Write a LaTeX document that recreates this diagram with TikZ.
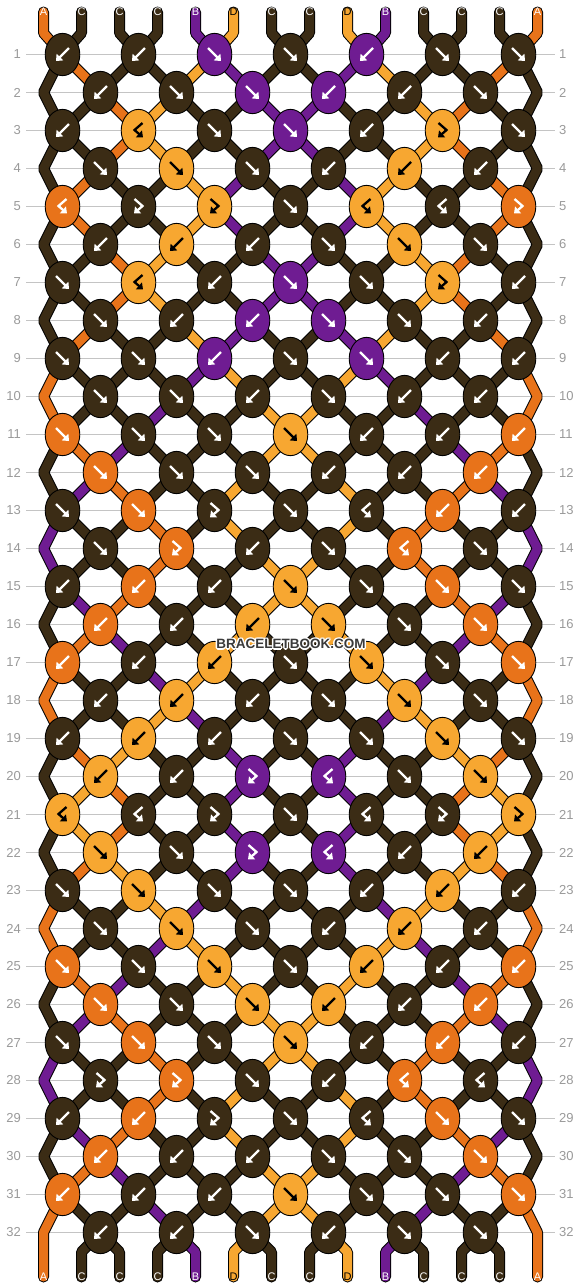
\documentclass[tikz,border=0pt]{standalone}
\usepackage{fontspec}
\setmainfont{Liberation Sans}
\usetikzlibrary{arrows.meta,shapes.geometric}
\definecolor{colA}{HTML}{E8731A}
\definecolor{colB}{HTML}{6F1C92}
\definecolor{colC}{HTML}{3B2C15}
\definecolor{colD}{HTML}{F7A731}
\colorlet{arrA}{white}
\colorlet{arrB}{white}
\colorlet{arrC}{white}
\colorlet{arrD}{black}
\colorlet{txtA}{white}
\colorlet{txtB}{white}
\colorlet{txtC}{white}
\colorlet{txtD}{black}
\definecolor{gridgray}{HTML}{C4C4C4}
\definecolor{numgray}{HTML}{9A9A9A}
\definecolor{wmgray}{HTML}{3A3A3A}
\pgfdeclarelayer{gridlayer}
\pgfdeclarelayer{threadlayer}
\pgfsetlayers{gridlayer,threadlayer,main}
\def\setrow#1#2{\expandafter\def\csname rt#1\endcsname{#2}}
\setrow{1}{b,b,f,f,b,f,f}
\setrow{2}{b,f,f,b,b,f}
\setrow{3}{b,r,f,f,b,l,f}
\setrow{4}{f,f,f,b,b,b}
\setrow{5}{r,l,l,f,r,r,l}
\setrow{6}{b,b,b,f,f,f}
\setrow{7}{f,r,b,f,f,l,b}
\setrow{8}{f,b,b,f,f,b}
\setrow{9}{f,f,b,f,f,b,b}
\setrow{10}{f,f,b,f,b,b}
\setrow{11}{f,f,f,f,b,b,b}
\setrow{12}{f,f,f,b,b,b}
\setrow{13}{f,f,l,f,r,b,b}
\setrow{14}{f,l,b,f,r,f}
\setrow{15}{b,b,b,f,f,f,f}
\setrow{16}{b,b,b,f,f,f}
\setrow{17}{b,b,b,f,f,f,f}
\setrow{18}{b,b,b,f,f,f}
\setrow{19}{b,b,b,f,f,f,f}
\setrow{20}{b,b,l,r,f,f}
\setrow{21}{r,r,l,f,r,l,l}
\setrow{22}{f,f,l,r,b,b}
\setrow{23}{f,f,f,f,b,b,b}
\setrow{24}{f,f,f,b,b,b}
\setrow{25}{f,f,f,f,b,b,b}
\setrow{26}{f,f,f,b,b,b}
\setrow{27}{f,f,f,f,b,b,b}
\setrow{28}{l,l,f,b,r,r}
\setrow{29}{b,b,l,f,r,f,f}
\setrow{30}{b,b,b,f,f,f}
\setrow{31}{b,b,b,f,f,f,f}
\setrow{32}{b,b,f,b,f,f}
\def\doswap{\expandafter\xdef\csname st\pl\endcsname{\Rc}\expandafter\xdef\csname st\pr\endcsname{\Lc}}
\begin{document}
\begin{tikzpicture}[x=1pt,y=-1pt,
  kn/.style={ellipse, draw=black, line width=0.9pt, minimum width=34.6pt, minimum height=42.3pt, inner sep=0pt},
  gly/.style={line width=2.3pt, line join=miter, -{Triangle[length=5.5pt,width=9pt]}},
  outl/.style={draw=black, line width=11pt, line cap=round, line join=bevel},
  thr/.style={line width=9pt, line cap=round, line join=bevel},
  lbl/.style={inner sep=0pt, font=\fontsize{11}{11}\selectfont},
  rownum/.style={inner sep=0pt, text=numgray, font=\fontsize{13}{13}\selectfont},
  gridline/.style={draw=gridgray, line width=1.2pt},
  wm/.style={inner sep=0pt, font=\bfseries\fontsize{13.5}{13.5}\selectfont}]
\useasboundingbox (0,0) rectangle (582,1288);
\begin{pgfonlayer}{gridlayer}
\fill[white] (0,0) rectangle (582,1288);
\end{pgfonlayer}
% row numbers and guide lines
\foreach \rw in {1,...,32}{
  \pgfmathsetmacro\yy{54.5+38*(\rw-1)}
  \node[rownum,anchor=east] (ln\rw) at (21,\yy) {\rw};
  \node[rownum,anchor=west] (rn\rw) at (559,\yy) {\rw};
  \begin{pgfonlayer}{gridlayer}
    \draw[gridline, shorten <=5pt, shorten >=4pt] (ln\rw.east) -- (rn\rw.west);
  \end{pgfonlayer}
}
% initial strings
\foreach \sc [count=\pos] in {A,C,C,C,B,D,C,C,D,B,C,C,C,A}{
  \expandafter\xdef\csname st\pos\endcsname{\sc}
  \expandafter\xdef\csname S0-\pos\endcsname{\sc}
  \pgfmathsetmacro\xx{43.5+38*(\pos-1)}
  \coordinate (t\pos) at (\xx,12);
  \coordinate (tb\pos) at (\xx,33);
  \coordinate (bb\pos) at (\xx,1252);
  \coordinate (bt\pos) at (\xx,1277);
  \node[lbl,text=txt\sc] (lt\pos) at (t\pos) {\sc};
}
% knots
\foreach \rw in {1,...,32}{
  \pgfmathsetmacro\yy{54.5+38*(\rw-1)}
  \ifodd\rw\relax \def\off{1}\else\def\off{2}\fi
  \edef\types{\csname rt\rw\endcsname}
  \foreach \ty [count=\kk] in \types {
    \pgfmathtruncatemacro\pl{2*\kk-2+\off}
    \pgfmathtruncatemacro\pr{\pl+1}
    \pgfmathsetmacro\xx{62.5+38*(\pl-1)}
    \edef\Lc{\csname st\pl\endcsname}
    \edef\Rc{\csname st\pr\endcsname}
    \if f\ty \edef\kc{\Lc}\doswap\fi
    \if b\ty \edef\kc{\Rc}\doswap\fi
    \if l\ty \edef\kc{\Lc}\fi
    \if r\ty \edef\kc{\Rc}\fi
    \node[kn, fill=col\kc, alias=k\rw-\pr] (k\rw-\pl) at (\xx,\yy) {};
    \begin{scope}[shift={(\xx,\yy)}]
      \if f\ty \draw[gly, color=arr\kc] (-6.5,-6.5) -- (6.5,6.5);\fi
      \if b\ty \draw[gly, color=arr\kc] (6.5,-6.5) -- (-6.5,6.5);\fi
      \if l\ty \draw[gly, color=arr\kc] (-4,-7.5) -- (4,-0.5) -- (-4.5,7);\fi
      \if r\ty \draw[gly, color=arr\kc] (4,-7.5) -- (-4,-0.5) -- (4.5,7);\fi
    \end{scope}
  }
  \ifodd\rw\relax\else
    \coordinate (k\rw-1) at (43.5,\yy);
    \coordinate (k\rw-14) at (537.5,\yy);
  \fi
  \foreach \pos in {1,...,14}{\expandafter\xdef\csname S\rw-\pos\endcsname{\csname st\pos\endcsname}}
}
% bottom labels
\foreach \pos in {1,...,14}{
  \edef\sc{\csname st\pos\endcsname}
  \node[lbl,text=txt\sc] (lb\pos) at (bt\pos) {\sc};
}
% threads
\begin{pgfonlayer}{threadlayer}
\foreach \pos in {1,...,14}{
  \edef\sc{\csname S0-\pos\endcsname}
  \draw[outl] (t\pos) -- (tb\pos) -- (k1-\pos.center);
  \draw[thr,draw=col\sc] (t\pos) -- (tb\pos) -- (k1-\pos.center);
}
\foreach \rw in {1,...,31}{
  \pgfmathtruncatemacro\rr{\rw+1}
  \pgfmathtruncatemacro\rrr{\rw+2}
  \foreach \pos in {1,...,14}{
    \edef\sc{\csname S\rw-\pos\endcsname}
    \def\isedge{0}\def\nxedge{0}
    \ifnum\pos=1 \ifodd\rw\relax\def\nxedge{1}\else\def\isedge{1}\fi\fi
    \ifnum\pos=14 \ifodd\rw\relax\def\nxedge{1}\else\def\isedge{1}\fi\fi
    \ifnum\isedge=0
      \ifnum\nxedge=1
        \ifnum\rw=31
          \draw[outl] (k\rw-\pos.center) -- (k\rr-\pos.center) -- (bt\pos);
          \draw[thr,draw=col\sc] (k\rw-\pos.center) -- (k\rr-\pos.center) -- (bt\pos);
        \else
          \draw[outl] (k\rw-\pos.center) -- (k\rr-\pos.center) -- (k\rrr-\pos.center);
          \draw[thr,draw=col\sc] (k\rw-\pos.center) -- (k\rr-\pos.center) -- (k\rrr-\pos.center);
        \fi
      \else
        \draw[outl] (k\rw-\pos.center) -- (k\rr-\pos.center);
        \draw[thr,draw=col\sc] (k\rw-\pos.center) -- (k\rr-\pos.center);
      \fi
    \fi
  }
}
\foreach \pos in {2,...,13}{
  \edef\sc{\csname S32-\pos\endcsname}
  \draw[outl] (k32-\pos.center) -- (bb\pos) -- (bt\pos);
  \draw[thr,draw=col\sc] (k32-\pos.center) -- (bb\pos) -- (bt\pos);
}
\end{pgfonlayer}
% watermark
\foreach \a in {0,45,...,315}{
  \node[wm,text=white] (wmh\a) at ({291+1.4*cos(\a)},{644+1.4*sin(\a)}) {BRACELETBOOK.COM};
}
\node[wm,text=wmgray] (wm) at (291,644) {BRACELETBOOK.COM};
\end{tikzpicture}
\end{document}
